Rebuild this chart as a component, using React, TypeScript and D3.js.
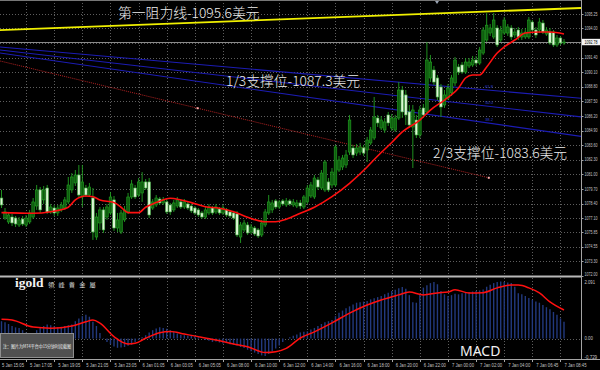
import React, { useEffect, useRef } from "react";
import * as d3 from "d3";

const W = 600;
const H = 370;
const PLOT_R = 581;
const MAIN_B = 276;

// XAUUSD 15m bars: [open, high, low, close]
const candles: [number, number, number, number][] = [
  [1078.90, 1079.62, 1078.01, 1078.28], [1077.12, 1078.01, 1076.95, 1077.66], [1076.77, 1077.66, 1076.59, 1077.39],
  [1077.21, 1077.48, 1076.41, 1076.68], [1077.12, 1077.30, 1076.32, 1076.59], [1076.50, 1077.21, 1076.32, 1076.95],
  [1077.03, 1077.30, 1076.41, 1076.59], [1076.50, 1077.39, 1076.32, 1077.12], [1076.77, 1077.84, 1076.59, 1077.57],
  [1077.21, 1078.90, 1077.03, 1078.55], [1078.19, 1080.06, 1077.84, 1079.62], [1079.62, 1079.88, 1077.57, 1077.84],
  [1078.73, 1079.97, 1078.37, 1079.62], [1079.79, 1080.06, 1077.48, 1077.66], [1077.66, 1078.37, 1077.48, 1078.10],
  [1078.01, 1078.28, 1077.30, 1077.57], [1077.57, 1078.28, 1077.30, 1078.01], [1077.84, 1078.55, 1077.66, 1078.28],
  [1078.01, 1078.99, 1077.84, 1078.73], [1078.55, 1080.77, 1078.37, 1080.06], [1079.62, 1081.12, 1079.35, 1080.77],
  [1080.24, 1081.39, 1079.97, 1080.95], [1080.95, 1081.84, 1078.99, 1079.17], [1078.99, 1081.84, 1078.10, 1080.33],
  [1079.79, 1080.06, 1078.99, 1079.17], [1079.17, 1080.24, 1078.99, 1079.88], [1078.90, 1079.79, 1075.17, 1075.88],
  [1075.43, 1077.57, 1075.17, 1077.21], [1076.68, 1078.10, 1076.06, 1077.84], [1077.84, 1078.10, 1075.79, 1076.06],
  [1077.21, 1078.37, 1076.95, 1078.10], [1077.57, 1079.44, 1077.39, 1078.99], [1078.73, 1079.08, 1075.97, 1076.23],
  [1076.23, 1077.57, 1075.88, 1076.95], [1075.88, 1077.84, 1075.70, 1077.57], [1076.95, 1078.19, 1076.77, 1077.84],
  [1077.66, 1079.35, 1077.48, 1078.99], [1078.99, 1080.51, 1078.81, 1080.15], [1079.79, 1080.06, 1078.81, 1078.99],
  [1079.17, 1080.68, 1078.99, 1080.33], [1079.35, 1081.21, 1078.55, 1080.33], [1080.33, 1080.59, 1079.62, 1079.79],
  [1080.33, 1080.68, 1077.12, 1077.39], [1078.01, 1078.81, 1077.84, 1078.55], [1078.28, 1079.17, 1078.10, 1078.90],
  [1078.81, 1078.99, 1078.28, 1078.46], [1078.46, 1078.99, 1078.28, 1078.73], [1078.55, 1078.81, 1077.48, 1077.66],
  [1078.28, 1078.46, 1077.39, 1077.66], [1077.84, 1078.73, 1077.66, 1078.46], [1078.19, 1078.99, 1078.01, 1078.73],
  [1078.55, 1078.81, 1077.92, 1078.10], [1078.10, 1078.81, 1077.92, 1078.55], [1078.37, 1078.55, 1077.84, 1078.01],
  [1078.19, 1078.37, 1077.57, 1077.75], [1078.01, 1078.19, 1077.39, 1077.57], [1077.84, 1078.01, 1077.21, 1077.39],
  [1077.57, 1077.75, 1077.03, 1077.21], [1077.21, 1078.10, 1077.03, 1077.84], [1077.57, 1078.37, 1077.39, 1078.10],
  [1078.01, 1078.19, 1077.39, 1077.57], [1077.66, 1078.37, 1077.48, 1078.10], [1077.92, 1078.10, 1077.39, 1077.57],
  [1077.57, 1078.28, 1077.39, 1078.01], [1077.84, 1078.01, 1077.21, 1077.39], [1077.66, 1077.84, 1077.12, 1077.30],
  [1077.57, 1077.75, 1076.95, 1077.12], [1077.48, 1077.75, 1075.43, 1075.61], [1075.43, 1076.77, 1074.90, 1076.50],
  [1076.06, 1076.95, 1075.88, 1076.68], [1076.50, 1076.77, 1075.61, 1075.79], [1075.88, 1076.59, 1075.70, 1076.32],
  [1076.23, 1076.41, 1075.52, 1075.70], [1076.06, 1076.23, 1075.34, 1075.52], [1075.61, 1076.95, 1075.43, 1076.68],
  [1076.50, 1077.92, 1076.32, 1077.66], [1077.57, 1079.17, 1077.39, 1078.55], [1077.84, 1078.73, 1077.57, 1078.46],
  [1078.64, 1078.81, 1077.92, 1078.10], [1078.10, 1078.73, 1077.92, 1078.55], [1078.64, 1078.81, 1078.19, 1078.37],
  [1078.28, 1078.90, 1078.10, 1078.64], [1078.64, 1078.81, 1078.19, 1078.37], [1078.28, 1078.81, 1078.10, 1078.55],
  [1078.19, 1078.73, 1078.01, 1078.46], [1078.46, 1078.73, 1077.92, 1078.19], [1078.10, 1079.17, 1077.92, 1078.99],
  [1078.55, 1080.06, 1078.37, 1079.79], [1079.08, 1080.33, 1078.90, 1080.06], [1078.99, 1080.95, 1078.81, 1080.68],
  [1080.51, 1080.77, 1079.62, 1079.88], [1079.79, 1081.39, 1079.62, 1081.12], [1079.62, 1082.28, 1079.44, 1082.10],
  [1080.33, 1080.68, 1079.44, 1079.62], [1080.06, 1081.57, 1079.79, 1081.21], [1080.06, 1083.62, 1079.88, 1083.44],
  [1081.39, 1082.64, 1081.21, 1082.28], [1081.66, 1082.73, 1081.39, 1082.46], [1081.84, 1083.17, 1081.57, 1082.73],
  [1082.99, 1086.29, 1082.73, 1085.84], [1083.35, 1083.62, 1082.46, 1082.73], [1082.90, 1083.71, 1082.64, 1083.35],
  [1082.99, 1083.80, 1082.73, 1083.44], [1083.35, 1083.62, 1082.64, 1082.90], [1083.17, 1084.33, 1082.10, 1084.06],
  [1083.80, 1085.22, 1083.62, 1084.95], [1084.24, 1087.89, 1084.06, 1086.11], [1086.02, 1086.29, 1085.22, 1085.58],
  [1085.13, 1086.20, 1084.95, 1085.84], [1084.95, 1086.02, 1084.69, 1085.67], [1086.29, 1086.56, 1085.31, 1085.58],
  [1085.13, 1086.38, 1084.87, 1086.02], [1084.95, 1086.29, 1084.78, 1086.02], [1086.02, 1089.22, 1085.84, 1088.51],
  [1088.51, 1088.87, 1086.02, 1086.56], [1088.07, 1088.51, 1085.40, 1086.29], [1086.56, 1087.18, 1085.13, 1085.40],
  [1085.22, 1087.18, 1081.57, 1086.73], [1085.84, 1086.29, 1084.24, 1084.51], [1084.51, 1087.09, 1084.24, 1086.73],
  [1086.91, 1087.27, 1086.02, 1086.29], [1086.56, 1092.78, 1086.38, 1091.18], [1089.58, 1091.63, 1089.22, 1091.00],
  [1090.29, 1090.65, 1088.96, 1089.22], [1089.58, 1089.85, 1087.62, 1087.89], [1088.78, 1089.05, 1086.11, 1087.00],
  [1087.18, 1088.51, 1086.91, 1088.07], [1087.80, 1089.05, 1087.62, 1088.69], [1088.25, 1089.85, 1087.98, 1089.58],
  [1089.14, 1091.45, 1088.87, 1091.18], [1090.56, 1090.83, 1089.85, 1090.11], [1090.74, 1091.00, 1089.94, 1090.11],
  [1090.11, 1091.36, 1089.94, 1091.00], [1090.65, 1091.36, 1090.47, 1091.00], [1090.74, 1091.54, 1090.56, 1091.18],
  [1091.18, 1091.54, 1090.65, 1090.91], [1090.91, 1092.34, 1090.74, 1092.07], [1091.80, 1094.12, 1091.63, 1093.85],
  [1092.96, 1095.36, 1092.78, 1094.28], [1093.58, 1094.38, 1093.32, 1094.03], [1093.23, 1095.36, 1093.05, 1094.74],
  [1094.03, 1094.28, 1092.34, 1092.52], [1092.96, 1094.21, 1092.78, 1093.85], [1093.58, 1095.01, 1093.41, 1094.74],
  [1093.58, 1094.38, 1093.32, 1094.12], [1094.03, 1094.28, 1092.96, 1093.23], [1093.41, 1094.03, 1093.14, 1093.67],
  [1093.85, 1094.12, 1092.96, 1093.23], [1093.23, 1093.94, 1092.96, 1093.58], [1093.23, 1094.03, 1093.05, 1093.67],
  [1093.23, 1095.01, 1093.05, 1094.74], [1094.56, 1094.74, 1093.58, 1093.85], [1093.85, 1094.12, 1093.14, 1093.41],
  [1093.85, 1094.92, 1093.58, 1094.56], [1094.47, 1094.74, 1093.49, 1093.67], [1093.49, 1094.12, 1093.32, 1093.85],
  [1093.67, 1094.03, 1092.52, 1092.70], [1093.67, 1093.85, 1092.34, 1092.52], [1092.52, 1093.41, 1092.34, 1093.14],
  [1093.14, 1093.32, 1092.52, 1092.70], [1092.70, 1093.05, 1092.52, 1092.78],
];

// moving average: [bar, price]
const maPoints: [number, number][] = [
  [0, 1077.6], [9, 1077.54], [14, 1077.68], [19, 1078.08], [21, 1078.73], [24, 1079.08], [26, 1079.02],
  [28, 1078.73], [32, 1078.49], [34, 1078.08], [36, 1077.6], [39, 1077.6], [41, 1078.08], [44, 1078.49],
  [48, 1078.88], [51, 1078.73], [54, 1078.49], [58, 1078.13], [62, 1077.99], [66, 1077.68], [70, 1077.19],
  [75, 1076.79], [78, 1076.79], [81, 1077.01], [85, 1077.54], [89, 1078.08], [94, 1079.02], [99, 1080.21],
  [104, 1081.66], [107, 1082.64], [111, 1083.84], [114, 1084.78], [119, 1085.84], [122, 1086.73],
  [126, 1087.62], [130, 1088.69], [132, 1089.58], [134, 1089.85], [136, 1089.85], [138, 1090.56],
  [141, 1091.8], [143, 1092.34], [146, 1092.96], [149, 1093.58], [153, 1093.67], [156, 1093.67], [160, 1093.5],
];

const macdHist: number[] = [
  0.62, 0.58, 0.52, 0.45, 0.4, 0.38, 0.3, 0.22, 0.18, 0.2, 0.3, 0.38, 0.45, 0.5, 0.48, 0.44, 0.4, 0.42, 0.45, 0.48,
  0.5, 0.62, 0.72, 0.8, 0.85, 0.78, 0.6, 0.45, 0.2, 0.02, -0.12, -0.2, -0.28, -0.33, -0.32, -0.3, -0.26, -0.22, -0.12, -0.05,
  0.05, 0.12, 0.22, 0.3, 0.36, 0.4, 0.38, 0.35, 0.3, 0.25, 0.18, 0.14, 0.12, 0.1, 0.12, 0.08, 0.05, 0.0, -0.05, -0.08,
  -0.12, -0.1, -0.14, -0.18, -0.15, -0.2, -0.22, -0.25, -0.3, -0.34, -0.4, -0.45, -0.5, -0.55, -0.6, -0.62, -0.55, -0.45, -0.35, -0.25,
  -0.12, 0.0, 0.05, 0.1, 0.15, 0.22, 0.24, 0.26, 0.32, 0.38, 0.45, 0.52, 0.58, 0.62, 0.66, 0.8, 0.92, 1.0, 1.08, 1.15,
  1.22, 1.28, 1.3, 1.32, 1.34, 1.4, 1.44, 1.48, 1.52, 1.58, 1.64, 1.7, 1.74, 1.8, 1.84, 1.78, 1.55, 1.3, 1.28, 1.6,
  1.82, 1.9, 1.98, 2.02, 1.94, 1.7, 1.58, 1.52, 1.55, 1.6, 1.58, 1.62, 1.66, 1.66, 1.68, 1.7, 1.72, 1.75, 1.85, 1.92,
  1.98, 2.02, 2.04, 2.02, 2.0, 1.98, 1.85, 1.62, 1.58, 1.52, 1.45, 1.38, 1.32, 1.28, 1.2, 1.12, 1.05, 0.95, 0.85, 0.72,
  0.6,
];

// signal line: [bar, value]
const macdSignal: [number, number][] = [
  [0, 0.69], [3, 0.66], [9, 0.41], [14, 0.37], [20, 0.45], [24, 0.6], [26, 0.66], [28, 0.55], [32, 0.07],
  [36, -0.19], [38, -0.17], [41, 0.01], [45, 0.21], [48, 0.25], [52, 0.16], [56, 0.07], [61, -0.05], [66, -0.19],
  [70, -0.29], [75, -0.5], [78, -0.47], [81, -0.35], [85, 0.02], [89, 0.24], [94, 0.56], [99, 0.91], [104, 1.2],
  [108, 1.38], [113, 1.56], [116, 1.66], [120, 1.56], [124, 1.63], [127, 1.66], [129, 1.74], [133, 1.63],
  [137, 1.64], [141, 1.81], [145, 1.91], [147, 1.91], [150, 1.81], [153, 1.63], [156, 1.31], [160, 1.02],
];

const priceTicks = [
  1095.25, 1094.0, 1092.7, 1091.4, 1090.1, 1088.8, 1087.5, 1086.2, 1084.9, 1083.6, 1082.3, 1081.0, 1079.7,
  1078.4, 1077.1, 1075.85, 1074.55, 1073.3, 1072.0,
];
const macdTicks = [2.091, 0, -0.729];
const macdTickText = ["2.091", "0.00", "-0.729"];

const timeLabels = [
  "5 Jan 15:05", "5 Jan 17:05", "5 Jan 19:05", "5 Jan 21:05", "5 Jan 23:05", "6 Jan 01:05", "6 Jan 03:05",
  "6 Jan 05:05", "6 Jan 08:00", "6 Jan 10:00", "6 Jan 12:00", "6 Jan 14:00", "6 Jan 16:00", "6 Jan 18:00",
  "6 Jan 20:00", "6 Jan 22:00", "7 Jan 00:00", "7 Jan 02:00", "7 Jan 04:00", "7 Jan 06:45", "7 Jan 08:45",
];

// drawn objects: prices at bar -1 and bar 165
const objBars = [-1, 165];
const resistPrices = [1093.84, 1095.81];
const fanLabels = ["61.8", "50.0", "38.2"];
const fanStart = [1092.36, 1092.09, 1091.83];
const fanEnd = [1087.77, 1086.11, 1084.38];
const trendBars = [-0.5, 55.8, 138.6];
const trendPrices = [1091.1, 1086.89, 1080.7];

const notes = [
  { text: "第一阻力线-1095.6美元", x: 118, y: 18 },
  { text: "1/3支撑位-1087.3美元", x: 226, y: 86 },
  { text: "2/3支撑位-1083.6美元", x: 433, y: 158 },
];

export default function App() {
  const svgRef = useRef<SVGSVGElement>(null);

  useEffect(() => {
    if (!svgRef.current) return;
    const svg = d3.select(svgRef.current);
    svg.selectAll("*").remove();

    const x = d3.scaleLinear().domain([0, candles.length - 1]).range([1.5, 564]);
    const y = d3.scaleLinear().domain([1071.96, 1096.52]).range([MAIN_B, 0]);
    const ym = d3.scaleLinear().domain([-0.729, 2.091]).range([359, 280]);
    const smallFont = "Liberation Sans, DejaVu Sans, sans-serif";
    const cjk = "Noto Sans CJK SC, Noto Sans, sans-serif";

    svg.append("rect").attr("width", W).attr("height", H).attr("fill", "#000");

    const defs = svg.append("defs");
    defs.append("clipPath").attr("id", "clip-main")
      .append("rect").attr("x", 0).attr("y", 0).attr("width", PLOT_R).attr("height", MAIN_B);
    defs.append("clipPath").attr("id", "clip-macd")
      .append("rect").attr("x", 0).attr("y", 278).attr("width", PLOT_R).attr("height", 81);

    // grid
    const grid = svg.append("g").attr("stroke", "#5e5e5e").attr("stroke-dasharray", "1,2").attr("stroke-width", 1);
    grid.selectAll("line.h").data(priceTicks.filter((p) => p > 1072.5)).join("line")
      .attr("x1", 0).attr("x2", PLOT_R)
      .attr("y1", (d) => Math.round(y(d)) + 0.5).attr("y2", (d) => Math.round(y(d)) + 0.5);
    const tickBars = timeLabels.map((_, i) => 8 * i - 1);
    [[0, MAIN_B], [278, 359]].forEach(([a, b]) => {
      grid.append("g").selectAll("line").data(tickBars.slice(1)).join("line")
        .attr("x1", (d) => Math.round(x(d)) + 0.5).attr("x2", (d) => Math.round(x(d)) + 0.5)
        .attr("y1", a).attr("y2", b);
    });
    grid.append("line").attr("x1", 0).attr("x2", PLOT_R)
      .attr("y1", Math.round(ym(0)) + 0.5).attr("y2", Math.round(ym(0)) + 0.5);

    const main = svg.append("g").attr("clip-path", "url(#clip-main)");

    // fan lines
    fanStart.forEach((p0, i) => {
      main.append("line")
        .attr("x1", x(objBars[0])).attr("y1", y(p0))
        .attr("x2", x(objBars[1])).attr("y2", y(fanEnd[i]))
        .attr("stroke", "#1c1cb4").attr("stroke-width", 1.1);
      const lb = 137.5;
      const t = (lb - objBars[0]) / (objBars[1] - objBars[0]);
      main.append("text").attr("x", x(lb)).attr("y", y(p0 + (fanEnd[i] - p0) * t) - 2)
        .attr("font-family", smallFont).attr("font-size", 4.2).attr("fill", "#2c3cd0")
        .text(fanLabels[i]);
    });

    // dotted trend line
    main.append("line")
      .attr("x1", x(trendBars[0])).attr("y1", y(trendPrices[0]))
      .attr("x2", x(trendBars[2])).attr("y2", y(trendPrices[2]))
      .attr("stroke", "#b42222").attr("stroke-width", 1).attr("stroke-dasharray", "1,1");
    main.selectAll("rect.anchor").data([1, 2]).join("rect")
      .attr("x", (i) => x(trendBars[i]) - 1).attr("y", (i) => y(trendPrices[i]) - 1)
      .attr("width", 2).attr("height", 2).attr("fill", "#ffb0b0");

    // current price line
    const last = candles[candles.length - 1][3];
    main.append("line").attr("x1", 0).attr("x2", PLOT_R)
      .attr("y1", Math.round(y(last)) + 0.5).attr("y2", Math.round(y(last)) + 0.5)
      .attr("stroke", "#8a8a8a").attr("stroke-width", 1);

    // candles
    const cg = main.append("g");
    cg.selectAll("line").data(candles).join("line")
      .attr("x1", (_, i) => x(i)).attr("x2", (_, i) => x(i))
      .attr("y1", (d) => y(d[1])).attr("y2", (d) => y(d[2]))
      .attr("stroke", "#23a023").attr("stroke-width", 0.9);
    cg.selectAll("rect").data(candles).join("rect")
      .attr("x", (_, i) => x(i) - 1.3).attr("width", 2.6)
      .attr("y", (d) => y(Math.max(d[0], d[3])))
      .attr("height", (d) => Math.max(0.8, Math.abs(y(d[0]) - y(d[3]))))
      .attr("fill", (d) => (d[3] >= d[0] ? "#0f5c0f" : "#dcf6d4"))
      .attr("stroke", (d) => (d[3] >= d[0] ? "#22a522" : "#45b045"))
      .attr("stroke-width", 0.6);

    // moving average
    main.append("path").datum(maPoints)
      .attr("fill", "none").attr("stroke", "#ff1010").attr("stroke-width", 1.6)
      .attr("d", d3.line<[number, number]>().x((d) => x(d[0])).y((d) => y(d[1])).curve(d3.curveMonotoneX));

    // resistance line
    main.append("line")
      .attr("x1", x(objBars[0])).attr("y1", y(resistPrices[0]))
      .attr("x2", x(objBars[1])).attr("y2", y(resistPrices[1]))
      .attr("stroke", "#f0f000").attr("stroke-width", 1.8);

    // MACD pane
    const mg = svg.append("g").attr("clip-path", "url(#clip-macd)");
    mg.selectAll("line").data(macdHist).join("line")
      .attr("x1", (_, i) => x(i)).attr("x2", (_, i) => x(i))
      .attr("y1", ym(0)).attr("y2", (d) => ym(d))
      .attr("stroke", "#22397e").attr("stroke-width", 1.4);
    mg.append("path").datum(macdSignal)
      .attr("fill", "none").attr("stroke", "#ff1010").attr("stroke-width", 1.5)
      .attr("d", d3.line<[number, number]>().x((d) => x(d[0])).y((d) => ym(d[1])).curve(d3.curveMonotoneX));

    // frame
    const frame = svg.append("g").attr("stroke", "#a4a4a4");
    frame.append("line").attr("x1", 0).attr("x2", PLOT_R).attr("y1", 0.5).attr("y2", 0.5).attr("stroke", "#777");
    frame.append("line").attr("x1", 0).attr("x2", PLOT_R).attr("y1", 276.5).attr("y2", 276.5).attr("stroke-width", 2).attr("stroke", "#b8b8b8");
    frame.append("line").attr("x1", 0).attr("x2", W).attr("y1", 359.5).attr("y2", 359.5);
    frame.append("line").attr("x1", PLOT_R + 0.5).attr("x2", PLOT_R + 0.5).attr("y1", 0).attr("y2", 360);

    // price axis
    const ax = svg.append("g").attr("font-family", smallFont).attr("font-size", 4.6).attr("fill", "#c4c4c4");
    const shown = priceTicks.filter((p) => Math.abs(y(p) - y(last)) > 5);
    ax.selectAll("line").data(shown).join("line")
      .attr("x1", PLOT_R).attr("x2", PLOT_R + 2.5)
      .attr("y1", (d) => Math.round(y(d)) + 0.5).attr("y2", (d) => Math.round(y(d)) + 0.5)
      .attr("stroke", "#a4a4a4");
    ax.selectAll("text.p").data(shown).join("text")
      .attr("x", PLOT_R + 3.5).attr("y", (d) => Math.min(y(d), 274) + 1.6)
      .attr("textLength", 13).attr("lengthAdjust", "spacingAndGlyphs")
      .text((d) => d.toFixed(2));
    ax.append("rect").attr("x", PLOT_R + 1).attr("y", y(last) - 3.2).attr("width", 18).attr("height", 6.4).attr("fill", "#f4f4f4");
    ax.append("text").attr("x", PLOT_R + 3.5).attr("y", y(last) + 1.6).attr("fill", "#000")
      .attr("textLength", 13).attr("lengthAdjust", "spacingAndGlyphs").text(last.toFixed(2));
    ax.selectAll("text.m").data(macdTicks).join("text")
      .attr("x", PLOT_R + 3.5).attr("y", (d) => Math.max(282, Math.min(ym(d), 357.5)) + 1.6)
      .attr("textLength", (_, i) => macdTickText[i].length * 2.1).attr("lengthAdjust", "spacingAndGlyphs")
      .text((_, i) => macdTickText[i]);

    // time axis
    const tx = svg.append("g").attr("font-family", smallFont).attr("font-size", 4.6).attr("fill", "#c4c4c4");
    tx.selectAll("line").data(tickBars).join("line")
      .attr("x1", (d) => Math.round(x(d)) + 0.5).attr("x2", (d) => Math.round(x(d)) + 0.5)
      .attr("y1", 359.5).attr("y2", 362).attr("stroke", "#a4a4a4");
    tx.selectAll("text").data(timeLabels).join("text")
      .attr("x", (_, i) => x(tickBars[i]) + 4).attr("y", 366.5)
      .attr("textLength", 22).attr("lengthAdjust", "spacingAndGlyphs")
      .text((d) => d);

    // small chart-shift marker
    svg.append("path").attr("d", "M435,1 L439,1 L437,4 Z").attr("fill", "#9aa4b4");

    // annotations
    svg.append("g").selectAll("text").data(notes).join("text")
      .attr("x", (d) => d.x).attr("y", (d) => d.y)
      .attr("font-family", cjk).attr("font-size", 13.8).attr("font-weight", 300).attr("fill", "#ececec")
      .text((d) => d.text);

    svg.append("text").attr("x", 460).attr("y", 356)
      .attr("font-family", "Noto Sans, sans-serif").attr("font-size", 14).attr("fill", "#f2f2f2").text("MACD");

    // logo
    svg.append("text").attr("x", 15).attr("y", 287)
      .attr("font-family", "Liberation Serif, DejaVu Serif, serif").attr("font-weight", "bold")
      .attr("font-size", 13.5).attr("fill", "#f2f2f2").text("igold");
    svg.append("text").attr("x", 48).attr("y", 287)
      .attr("font-family", "Noto Sans CJK TC, sans-serif").attr("font-size", 6.2).attr("fill", "#d8d8d8")
      .attr("letter-spacing", 4.2).text("領峰貴金屬");

    // note box
    svg.append("rect").attr("x", 0.5).attr("y", 333.5).attr("width", 73).attr("height", 24)
      .attr("fill", "#505050").attr("stroke", "#8e8e8e");
    svg.append("text").attr("x", 3).attr("y", 347.5)
      .attr("font-family", cjk).attr("font-size", 4.6).attr("fill", "#f0f0f0")
      .attr("textLength", 68).attr("lengthAdjust", "spacingAndGlyphs")
      .text("注：图片为MT4平台中15分钟时段截图");
  }, []);

  return (
    <svg
      ref={svgRef}
      width={W}
      height={H}
      style={{ position: "absolute", left: 0, top: 0, display: "block", background: "#000" }}
      role="img"
      aria-label="XAUUSD 15 minute chart"
    />
  );
}
